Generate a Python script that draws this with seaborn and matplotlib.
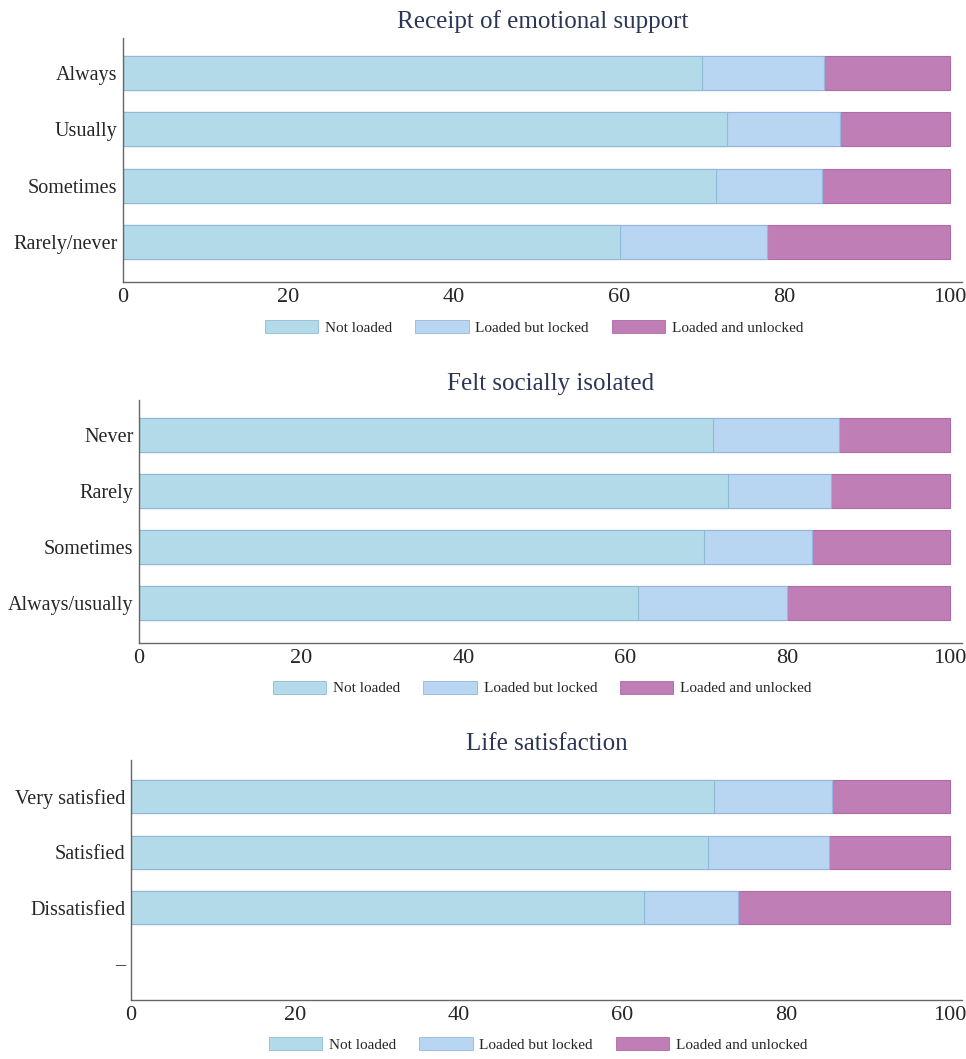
import numpy as np
import pandas as pd
import matplotlib
matplotlib.use("Agg")
import matplotlib.pyplot as plt
import seaborn as sns
from matplotlib.patches import Patch

sns.set_style("white")
plt.rcParams['font.family'] = ['Liberation Serif', 'DejaVu Serif']

# data (percent of respondents)
segments = ['Not loaded', 'Loaded but locked', 'Loaded and unlocked']
colors = ['#b3dae8', '#b8d5f1', '#bf7fb6']
edges = ['#8fbbd6', '#93b7e0', '#b06aa6']

support_cats = ['Always', 'Usually', 'Sometimes', 'Rarely/never']
support_not = [70.0, 73.1, 71.7, 60.1]
support_locked = [14.8, 13.7, 12.9, 17.8]
support_unlocked = [15.2, 13.2, 15.4, 22.1]

isolated_cats = ['Never', 'Rarely', 'Sometimes', 'Always/usually']
isolated_not = [70.8, 72.7, 69.7, 61.6]
isolated_locked = [15.5, 12.6, 13.3, 18.3]
isolated_unlocked = [13.7, 14.7, 17.0, 20.1]

satisf_cats = ['Very satisfied', 'Satisfied', 'Dissatisfied', '–']
satisf_not = [71.2, 70.5, 62.7, np.nan]
satisf_locked = [14.4, 14.7, 11.5, np.nan]
satisf_unlocked = [14.4, 14.8, 25.8, np.nan]

panels = [
    ('Receipt of emotional support', support_cats, support_not, support_locked, support_unlocked,
     [123, 38, 962, 282], (3.71, -0.62)),
    ('Felt socially isolated', isolated_cats, isolated_not, isolated_locked, isolated_unlocked,
     [139, 400, 962, 643], (3.71, -0.62)),
    ('Life satisfaction', satisf_cats, satisf_not, satisf_locked, satisf_unlocked,
     [131, 760, 962, 1000], (3.66, -0.66)),
]

W, H = 966, 1059
fig = plt.figure(figsize=(W / 100, H / 100), dpi=100)

for title, cats, v1, v2, v3, box, ylim in panels:
    x0, y0, x1, y1 = box
    ax = fig.add_axes([x0 / W, 1 - y1 / H, (x1 - x0) / W, (y1 - y0) / H])
    df = pd.DataFrame({'cat': cats, 'a': v1, 'b': v2, 'c': v3})
    df['end1'] = df['a']
    df['end2'] = df['a'] + df['b']
    df['end3'] = df['a'] + df['b'] + df['c']
    # draw longest first so shorter cumulative bars sit on top
    for col, fc, ec in zip(['end3', 'end2', 'end1'], colors[::-1], edges[::-1]):
        sns.barplot(data=df, y='cat', x=col, order=cats, orient='h', color=fc,
                    edgecolor=ec, linewidth=0.8, width=0.6, saturation=1,
                    errorbar=None, ax=ax)
    ax.set_xlim(0, 101.5)
    ax.set_ylim(*ylim)
    ax.set_xticks([0, 20, 40, 60, 80, 100])
    ax.set_xlabel('')
    ax.set_ylabel('')
    ax.set_title(title, fontsize=18, color='#2b3556', pad=7)
    for s in ['top', 'right']:
        ax.spines[s].set_visible(False)
    for s in ['left', 'bottom']:
        ax.spines[s].set_color('#666666')
        ax.spines[s].set_linewidth(1.0)
    ax.tick_params(axis='x', direction='in', length=4, color='#666666',
                   labelsize=16, pad=4)
    ax.tick_params(axis='y', length=0, labelsize=14.5, pad=4)
    handles = [Patch(facecolor=c, edgecolor=e, linewidth=0.6) for c, e in zip(colors, edges)]
    ax.legend(handles, segments, loc='center', bbox_to_anchor=(0.49, -0.185),
              ncol=3, frameon=False, fontsize=11, handlelength=3.5,
              handleheight=0.95, handletextpad=0.45, columnspacing=1.5)

fig.savefig('out.png', dpi=100)
